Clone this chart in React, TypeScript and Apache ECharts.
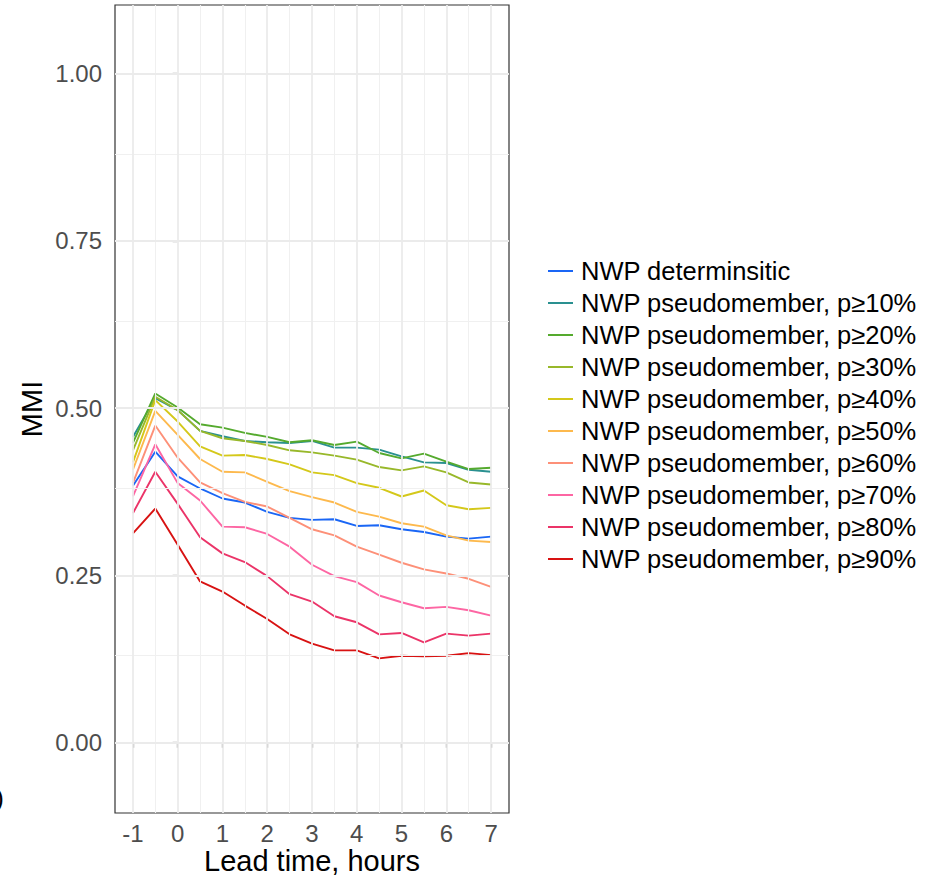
import React, { useEffect, useRef } from "react";
import * as echarts from "echarts";

const leadTime = [-1, -0.5, 0, 0.5, 1, 1.5, 2, 2.5, 3, 3.5, 4, 4.5, 5, 5.5, 6, 6.5, 7];

const seriesNames = [
  "NWP determinsitic",
  "NWP pseudomember, p\u226510%",
  "NWP pseudomember, p\u226520%",
  "NWP pseudomember, p\u226530%",
  "NWP pseudomember, p\u226540%",
  "NWP pseudomember, p\u226550%",
  "NWP pseudomember, p\u226560%",
  "NWP pseudomember, p\u226570%",
  "NWP pseudomember, p\u226580%",
  "NWP pseudomember, p\u226590%",
];

const deterministic = [0.384, 0.435, 0.398, 0.380, 0.365, 0.359, 0.345, 0.336, 0.333, 0.334, 0.324, 0.325, 0.319, 0.315, 0.308, 0.305, 0.308];
const p10 = [0.457, 0.515, 0.497, 0.466, 0.458, 0.451, 0.449, 0.448, 0.451, 0.441, 0.441, 0.438, 0.428, 0.419, 0.418, 0.408, 0.405];
const p20 = [0.448, 0.522, 0.501, 0.476, 0.471, 0.463, 0.457, 0.449, 0.452, 0.445, 0.450, 0.433, 0.425, 0.432, 0.420, 0.409, 0.411];
const p30 = [0.437, 0.517, 0.497, 0.466, 0.455, 0.451, 0.445, 0.437, 0.434, 0.429, 0.423, 0.412, 0.407, 0.413, 0.404, 0.389, 0.386];
const p40 = [0.419, 0.512, 0.480, 0.443, 0.429, 0.430, 0.424, 0.416, 0.404, 0.400, 0.388, 0.381, 0.368, 0.377, 0.355, 0.349, 0.351];
const p50 = [0.408, 0.496, 0.460, 0.424, 0.405, 0.404, 0.390, 0.376, 0.367, 0.359, 0.345, 0.338, 0.328, 0.323, 0.310, 0.302, 0.300];
const p60 = [0.388, 0.474, 0.426, 0.389, 0.373, 0.360, 0.353, 0.336, 0.319, 0.310, 0.293, 0.281, 0.269, 0.259, 0.253, 0.245, 0.233];
const p70 = [0.368, 0.446, 0.388, 0.362, 0.323, 0.322, 0.312, 0.293, 0.266, 0.249, 0.240, 0.220, 0.210, 0.201, 0.203, 0.198, 0.190];
const p80 = [0.343, 0.405, 0.357, 0.307, 0.283, 0.270, 0.249, 0.222, 0.211, 0.189, 0.180, 0.162, 0.164, 0.150, 0.163, 0.160, 0.163];
const p90 = [0.313, 0.350, 0.296, 0.241, 0.226, 0.205, 0.185, 0.162, 0.148, 0.138, 0.138, 0.126, 0.130, 0.129, 0.130, 0.134, 0.131];

const seriesValues = [deterministic, p10, p20, p30, p40, p50, p60, p70, p80, p90];

const seriesColors = [
  "#1a66f5",
  "#2a9090",
  "#55aa2e",
  "#98b82a",
  "#d4c81a",
  "#fdb94d",
  "#fd9078",
  "#fd66a3",
  "#eb3468",
  "#d81212",
];

const xMajorTicks = [-1, 0, 1, 2, 3, 4, 5, 6, 7];
const xMinorTicks = [-0.5, 0.5, 1.5, 2.5, 3.5, 4.5, 5.5, 6.5];
const yMajorTicks = [0, 0.25, 0.5, 0.75, 1];
const yMinorTicks = [0.125, 0.375, 0.625, 0.875];

const FONT = "'Liberation Sans', Arial, Helvetica, sans-serif";

export default function App() {
  const ref = useRef<HTMLDivElement>(null);

  useEffect(() => {
    if (!ref.current) return;
    const chart = echarts.init(ref.current, undefined, { renderer: "svg" });

    const gridLines: any[] = [
      ...xMinorTicks.map((v) => ({ xAxis: v, lineStyle: { color: "#F0F0F0", width: 1.1, type: "solid" } })),
      ...yMinorTicks.map((v) => ({ yAxis: v, lineStyle: { color: "#F0F0F0", width: 1.1, type: "solid" } })),
      ...xMajorTicks.map((v) => ({ xAxis: v, lineStyle: { color: "#EBEBEB", width: 1.8, type: "solid" } })),
      ...yMajorTicks.map((v) => ({ yAxis: v, lineStyle: { color: "#EBEBEB", width: 1.8, type: "solid" } })),
    ];

    const dataSeries = seriesNames.map((name, i) => ({
      name,
      type: "line",
      data: leadTime.map((x, j) => [x, seriesValues[i][j]]),
      showSymbol: false,
      symbol: "none",
      lineStyle: { color: seriesColors[i], width: 1.9 },
      itemStyle: { color: seriesColors[i] },
      color: seriesColors[i],
      z: 3,
      silent: true,
    }));

    chart.setOption({
      animation: false,
      backgroundColor: "#ffffff",
      textStyle: { fontFamily: FONT },
      grid: {
        left: 115,
        top: 5,
        width: 394,
        height: 808,
        show: true,
        borderColor: "#333333",
        borderWidth: 1.2,
        backgroundColor: "#ffffff",
        containLabel: false,
      },
      xAxis: {
        type: "value",
        min: -1.4,
        max: 7.4,
        axisLine: { show: false },
        splitLine: { show: false },
        axisTick: {
          show: true,
          length: 5,
          customValues: xMajorTicks,
          lineStyle: { color: "#333333", width: 1.2 },
        },
        axisLabel: {
          customValues: xMajorTicks,
          fontSize: 24,
          color: "#4D4D4D",
          fontFamily: FONT,
          margin: 8,
          formatter: (v: number) => String(v),
        },
      },
      yAxis: {
        type: "value",
        min: -0.105,
        max: 1.1025,
        axisLine: { show: false },
        splitLine: { show: false },
        axisTick: {
          show: true,
          length: 5,
          customValues: yMajorTicks,
          lineStyle: { color: "#333333", width: 1.2 },
        },
        axisLabel: {
          customValues: yMajorTicks,
          fontSize: 24,
          color: "#4D4D4D",
          fontFamily: FONT,
          margin: 13,
          formatter: (v: number) => v.toFixed(2),
        },
      },
      legend: {
        orient: "vertical",
        left: 543,
        top: 250,
        itemWidth: 25,
        itemHeight: 2,
        itemGap: 0,
        icon: "rect",
        data: seriesNames,
        selectedMode: false,
        textStyle: {
          fontSize: 25.5,
          color: "#000000",
          fontFamily: FONT,
          lineHeight: 32,
          padding: [0, 0, 0, 3],
        },
      },
      graphic: [
        {
          type: "text",
          x: 32,
          y: 409,
          rotation: Math.PI / 2,
          style: {
            text: "MMI",
            fontSize: 29,
            fontFamily: FONT,
            fill: "#000000",
            align: "center",
            verticalAlign: "middle",
          },
        },
        {
          type: "text",
          x: 312,
          y: 861,
          style: {
            text: "Lead time, hours",
            fontSize: 29,
            fontFamily: FONT,
            fill: "#000000",
            align: "center",
            verticalAlign: "middle",
          },
        },
        {
          type: "text",
          x: 4,
          y: 798,
          style: {
            text: ")",
            fontSize: 26,
            fontFamily: FONT,
            fill: "#000000",
            align: "right",
            verticalAlign: "middle",
          },
        },
      ],
      series: [
        {
          name: "__grid",
          type: "line",
          data: [],
          z: 1,
          silent: true,
          markLine: {
            silent: true,
            animation: false,
            symbol: ["none", "none"],
            label: { show: false },
            emphasis: { disabled: true },
            data: gridLines,
          },
        },
        ...dataSeries,
      ],
    });

    return () => {
      chart.dispose();
    };
  }, []);

  return (
    <div
      ref={ref}
      style={{ position: "fixed", left: 0, top: 0, width: 928, height: 875 }}
    />
  );
}
